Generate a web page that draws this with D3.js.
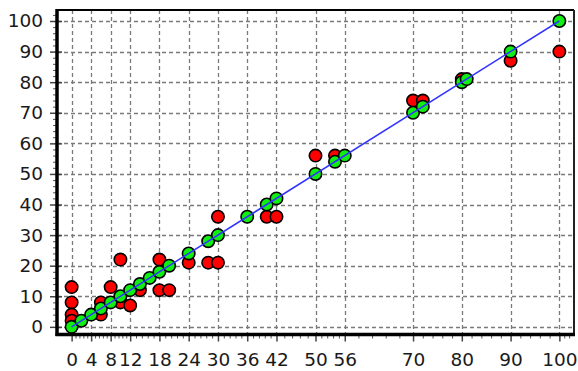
<!DOCTYPE html>
<html>
<head>
<meta charset="utf-8">
<script src="https://cdn.jsdelivr.net/npm/d3@7"></script>
<style>
html,body{margin:0;padding:0;background:#fff;}
svg{display:block;}
</style>
</head>
<body>
<svg id="chart" width="578" height="371"></svg>
<script>
// Tick labels
const xTicks = [0, 4, 8, 12, 18, 24, 30, 36, 42, 50, 56, 70, 80, 90, 100];
const yTicks = [0, 10, 20, 30, 40, 50, 60, 70, 80, 90, 100];

// Fitted (green) points: x values, placed on the y = x line
const fitX = [0, 2, 4, 6, 8, 10, 12, 14, 16, 18, 20, 24, 28, 30, 36, 40, 42, 50, 54, 56, 70, 72, 80, 81, 90, 100];

// Observed (red) points
const obsX = [0, 0, 0, 0, 6, 6, 8, 10, 10, 12, 14, 18, 18, 20, 24, 28, 30, 30, 40, 42, 50, 54, 70, 72, 80, 90, 100];
const obsY = [13, 8, 4, 2, 8, 4, 13, 22, 8, 7, 12, 22, 12, 12, 21, 21, 21, 36, 36, 36, 56, 56, 74, 74, 81, 87, 90];

// Reference line endpoints
const lineX = [0, 100];
const lineY = [0, 100];

const svg = d3.select("#chart");
const L = 57, R = 574, T = 10, B = 334.5;
const x = d3.scaleLinear().domain([-3, 103]).range([L, R]);
const y = d3.scaleLinear().domain([-2.5, 103.6]).range([B, T]);

// minor ticks: 4 between consecutive majors
function minors(majors) {
  const m = [];
  for (let i = 0; i < majors.length - 1; i++) {
    const a = majors[i], b = majors[i + 1];
    for (let k = 1; k < 5; k++) m.push(a + (b - a) * k / 5);
  }
  return m;
}
const xMinor = minors(xTicks).concat([101, 102]);
const yMinor = minors(yTicks).concat([102]);

// grid
const grid = svg.append("g").attr("stroke", "#7a7a7a").attr("stroke-width", 1.3)
  .attr("stroke-dasharray", "4,3").attr("fill", "none");
grid.selectAll("line.v").data(xTicks).join("line")
  .attr("x1", d => Math.round(x(d)) + 0.5).attr("x2", d => Math.round(x(d)) + 0.5)
  .attr("y1", T).attr("y2", B);
grid.selectAll("line.h").data(yTicks).join("line")
  .attr("y1", d => Math.round(y(d)) + 0.5).attr("y2", d => Math.round(y(d)) + 0.5)
  .attr("x1", L).attr("x2", R);

// frame top/right
svg.append("line").attr("x1", L).attr("x2", R).attr("y1", T).attr("y2", T)
  .attr("stroke", "#000").attr("stroke-width", 2);
svg.append("line").attr("x1", R).attr("x2", R).attr("y1", T).attr("y2", B)
  .attr("stroke", "#222").attr("stroke-width", 2);

// axes
const fontFam = "'DejaVu Sans', Verdana, sans-serif";
const yAxis = svg.append("g").attr("transform", `translate(${L},0)`)
  .call(d3.axisLeft(y).tickValues(yTicks).tickSize(7).tickPadding(7).tickFormat(d3.format("d")));
yAxis.select(".domain").remove();
yAxis.selectAll(".tick line").attr("x2", -7).attr("x1", 5).attr("stroke", "#444").attr("stroke-width", 1.5);
yAxis.selectAll("text").attr("font-family", fontFam).attr("font-size", 18.5).attr("fill", "#1a1a1a");
const yMin = svg.append("g").attr("transform", `translate(${L},0)`)
  .call(d3.axisLeft(y).tickValues(yMinor).tickSize(4).tickFormat(""));
yMin.select(".domain").remove();
yMin.selectAll(".tick line").attr("stroke", "#555");

const xAxis = svg.append("g").attr("transform", `translate(0,${B})`)
  .call(d3.axisBottom(x).tickValues(xTicks).tickSize(7).tickPadding(11).tickFormat(d3.format("d")));
xAxis.select(".domain").remove();
xAxis.selectAll(".tick line").attr("stroke", "#444").attr("stroke-width", 1.5);
xAxis.selectAll("text").attr("font-family", fontFam).attr("font-size", 18.5).attr("fill", "#1a1a1a");
const xMin = svg.append("g").attr("transform", `translate(0,${B})`)
  .call(d3.axisBottom(x).tickValues(xMinor).tickSize(4).tickFormat(""));
xMin.select(".domain").remove();
xMin.selectAll(".tick line").attr("stroke", "#555");

// thick left and bottom axis lines
svg.append("line").attr("x1", L).attr("x2", L).attr("y1", T - 1).attr("y2", B + 1.5)
  .attr("stroke", "#000").attr("stroke-width", 3.5);
svg.append("line").attr("x1", L - 1.5).attr("x2", R + 1).attr("y1", B).attr("y2", B)
  .attr("stroke", "#000").attr("stroke-width", 3.5);

// marker
const sym = d3.symbol().type(d3.symbolCircle).size(Math.PI * 6.2 * 6.2);

// red observed
svg.append("g").selectAll("path").data(obsX.map((d, i) => [d, obsY[i]])).join("path")
  .attr("d", sym).attr("transform", d => `translate(${x(d[0])},${y(d[1])})`)
  .attr("fill", "#ff0000").attr("stroke", "#000").attr("stroke-width", 1.6);

// green fitted
svg.append("g").selectAll("path").data(fitX).join("path")
  .attr("d", sym).attr("transform", d => `translate(${x(d)},${y(d)})`)
  .attr("fill", "#11ee11").attr("stroke", "#000").attr("stroke-width", 1.6);

// blue line
svg.append("path").datum(lineX.map((d, i) => [d, lineY[i]]))
  .attr("d", d3.line().x(d => x(d[0])).y(d => y(d[1])))
  .attr("stroke", "#3333ff").attr("stroke-width", 1.5).attr("fill", "none");
</script>
</body>
</html>
